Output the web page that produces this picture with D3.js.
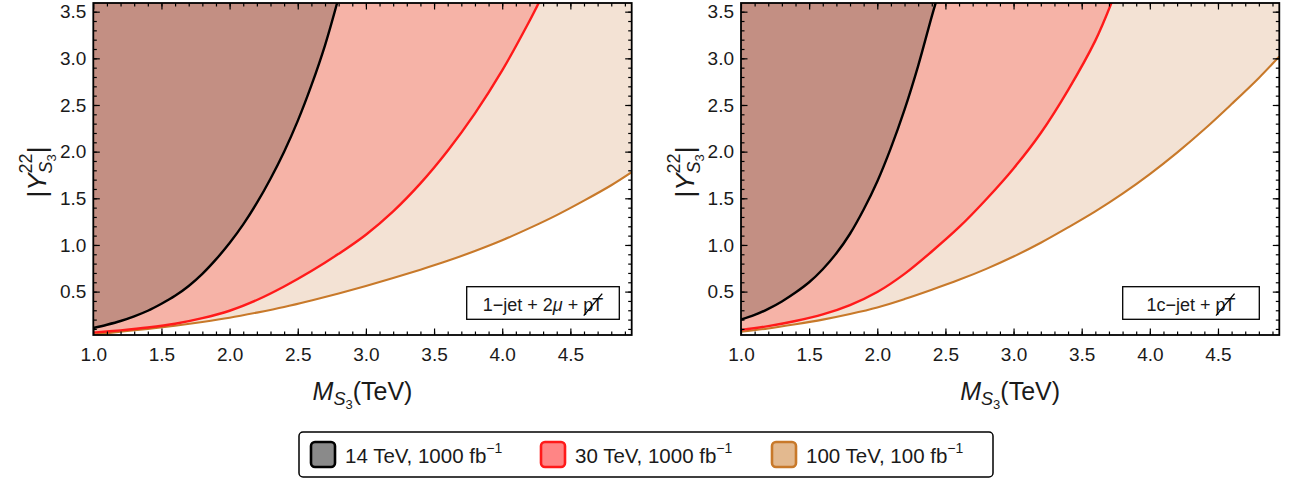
<!DOCTYPE html>
<html><head><meta charset="utf-8">
<script src="https://cdn.jsdelivr.net/npm/d3@7"></script>
<style>
body{margin:0;background:#fff}
svg{display:block}
text{font-family:"Liberation Sans",Arial,Helvetica,sans-serif;fill:#1a1a1a}
</style>
</head><body>
<svg id="chart" width="1292" height="480"></svg>
<script>
// ---------------- data ----------------
const xTicks = [1.0, 1.5, 2.0, 2.5, 3.0, 3.5, 4.0, 4.5];
const yTicks = [0.5, 1.0, 1.5, 2.0, 2.5, 3.0, 3.5];
const xDomain = [1.0, 4.95];
const yDomain = [0.035, 3.593];
const legendLabels = ["14 TeV, 1000 fb", "30 TeV, 1000 fb", "100 TeV, 100 fb"];
const panelLabels = ["1\u2212jet + 2\u03bc + ", "1c\u2212jet + "];

// left panel: 1-jet + 2mu + MET   [M_S3 (TeV), |Y22|]
const left14 = [[1.0,0.11],[1.1,0.145],[1.2,0.185],[1.3,0.235],[1.4,0.295],[1.5,0.37],[1.6,0.455],[1.7,0.56],[1.8,0.69],[1.9,0.845],[2.0,1.02],[2.1,1.22],[2.2,1.45],[2.3,1.71],[2.4,2.0],[2.5,2.33],[2.6,2.71],[2.7,3.14],[2.79,3.6]];
const left30 = [[1.0,0.06],[1.2,0.085],[1.4,0.115],[1.6,0.155],[1.8,0.215],[2.0,0.295],[2.2,0.41],[2.4,0.555],[2.6,0.72],[2.8,0.905],[3.0,1.11],[3.2,1.36],[3.4,1.66],[3.6,2.01],[3.8,2.41],[4.0,2.87],[4.2,3.40],[4.27,3.6]];
const left100 = [[1.0,0.04],[1.2,0.07],[1.4,0.10],[1.6,0.135],[1.8,0.175],[2.0,0.22],[2.2,0.275],[2.4,0.335],[2.6,0.405],[2.8,0.48],[3.0,0.56],[3.2,0.645],[3.4,0.735],[3.6,0.83],[3.8,0.935],[4.0,1.05],[4.2,1.18],[4.4,1.32],[4.6,1.475],[4.8,1.64],[4.95,1.78]];

// right panel: 1c-jet + MET
const right14 = [[1.0,0.20],[1.1,0.25],[1.2,0.315],[1.3,0.395],[1.4,0.49],[1.5,0.60],[1.6,0.74],[1.7,0.91],[1.8,1.12],[1.9,1.38],[2.0,1.68],[2.1,2.04],[2.2,2.45],[2.3,2.92],[2.4,3.45],[2.43,3.6]];
const right30 = [[1.0,0.09],[1.2,0.13],[1.4,0.185],[1.6,0.255],[1.8,0.355],[2.0,0.495],[2.2,0.69],[2.4,0.93],[2.6,1.19],[2.8,1.49],[3.0,1.82],[3.2,2.20],[3.4,2.66],[3.6,3.19],[3.72,3.6]];
const right100 = [[1.0,0.07],[1.2,0.105],[1.4,0.15],[1.6,0.20],[1.8,0.26],[2.0,0.33],[2.2,0.42],[2.4,0.52],[2.6,0.626],[2.8,0.744],[3.0,0.876],[3.2,1.024],[3.4,1.188],[3.6,1.36],[3.8,1.55],[4.0,1.76],[4.2,1.99],[4.4,2.24],[4.6,2.51],[4.8,2.79],[4.95,3.02]];

// ---------------- styles ----------------
const fills  = ["#c38f83", "#f6b3a7", "#f3e2d4"];
const lines  = ["#000000", "#ff1a1a", "#c8792a"];
const swatchFill = ["#8a8a8a", "#ff8585", "#e3b98f"];
const lineW = [2.4, 2.4, 2.1];

const svg = d3.select("#chart");
const plotTop = 3, plotBottom = 335;

const panels = [
  {x0: 93.3, x1: 631.7, data: [left14, left30, left100], label: panelLabels[0], box: [466.7, 286.7, 619.3, 319.3], yl: 28},
  {x0: 741, x1: 1279.3, data: [right14, right30, right100], label: panelLabels[1], box: [1122.7, 286.7, 1259.3, 319.3], yl: 676}
];

panels.forEach((p, pi) => {
  const x = d3.scaleLinear().domain(xDomain).range([p.x0, p.x1]);
  const y = d3.scaleLinear().domain(yDomain).range([plotBottom, plotTop]);
  const g = svg.append("g");
  const cid = "clip" + pi;
  svg.append("clipPath").attr("id", cid).append("rect")
    .attr("x", p.x0).attr("y", plotTop).attr("width", p.x1 - p.x0).attr("height", plotBottom - plotTop);
  const plot = g.append("g").attr("clip-path", `url(#${cid})`);
  const curve = d3.curveCatmullRom.alpha(0.5);

  // filled regions (largest first)
  [2, 1, 0].forEach(i => {
    const area = d3.area().curve(curve)
      .x(d => x(d[0])).y0(d => y(d[1])).y1(y(yDomain[1]) - 5);
    plot.append("path").datum(p.data[i]).attr("d", area).attr("fill", fills[i]);
  });
  [2, 1, 0].forEach(i => {
    const line = d3.line().curve(curve).x(d => x(d[0])).y(d => y(d[1]));
    plot.append("path").datum(p.data[i]).attr("d", line)
      .attr("fill", "none").attr("stroke", lines[i]).attr("stroke-width", lineW[i]);
  });

  // axes with inward ticks
  const minorX = d3.range(11, 50).map(v => v / 10).filter(v => v <= xDomain[1]);
  const minorY = d3.range(1, 36).map(v => v / 10);
  const tickStyle = sel => { sel.select(".domain").remove(); sel.selectAll("line").attr("stroke", "#000").attr("stroke-width", 1.2); };

  g.append("g").attr("transform", `translate(0,${plotBottom})`)
    .call(d3.axisBottom(x).tickValues(minorX).tickSize(-3.5).tickFormat("")).call(tickStyle);
  const axB2 = g.append("g").attr("transform", `translate(0,${plotBottom})`)
    .call(d3.axisBottom(x).tickValues(xTicks).tickSize(-6.5).tickPadding(13).tickFormat(d3.format(".1f"))).call(tickStyle);
  axB2.selectAll("text").attr("font-size", 19).attr("fill", "#1a1a1a").attr("font-family", "Liberation Sans, Arial, sans-serif");
  g.append("g").attr("transform", `translate(0,${plotTop})`)
    .call(d3.axisTop(x).tickValues(minorX).tickSize(-3.5).tickFormat("")).call(tickStyle);
  g.append("g").attr("transform", `translate(0,${plotTop})`)
    .call(d3.axisTop(x).tickValues(xTicks).tickSize(-6.5).tickFormat("")).call(tickStyle);

  g.append("g").attr("transform", `translate(${p.x0},0)`)
    .call(d3.axisLeft(y).tickValues(minorY).tickSize(-3.5).tickFormat("")).call(tickStyle);
  const axL = g.append("g").attr("transform", `translate(${p.x0},0)`)
    .call(d3.axisLeft(y).tickValues(yTicks).tickSize(-6.5).tickPadding(7).tickFormat(d3.format(".1f"))).call(tickStyle);
  axL.selectAll("text").attr("font-size", 19).attr("fill", "#1a1a1a").attr("font-family", "Liberation Sans, Arial, sans-serif");
  g.append("g").attr("transform", `translate(${p.x1},0)`)
    .call(d3.axisRight(y).tickValues(minorY).tickSize(-3.5).tickFormat("")).call(tickStyle);
  g.append("g").attr("transform", `translate(${p.x1},0)`)
    .call(d3.axisRight(y).tickValues(yTicks).tickSize(-6.5).tickFormat("")).call(tickStyle);

  // frame
  g.append("rect").attr("x", p.x0).attr("y", plotTop).attr("width", p.x1 - p.x0).attr("height", plotBottom - plotTop)
    .attr("fill", "none").attr("stroke", "#000").attr("stroke-width", 1.8);

  // x label
  const xl = g.append("text").attr("x", (p.x0 + p.x1) / 2).attr("y", 400).attr("text-anchor", "middle").attr("font-size", 25);
  xl.append("tspan").attr("font-style", "italic").text("M");
  xl.append("tspan").attr("font-style", "italic").attr("font-size", 18).attr("dy", 5).text("S");
  xl.append("tspan").attr("font-size", 13).attr("dy", 4).text("3");
  xl.append("tspan").attr("dy", -9).text("(TeV)");

  // y label (rotated)
  const yg = g.append("g").attr("transform", `translate(${p.yl + 18},172) rotate(-90)`);
  const yt = yg.append("text").attr("text-anchor", "middle").attr("font-size", 26);
  yt.append("tspan").text("|");
  yt.append("tspan").attr("font-style", "italic").text("Y");
  yt.append("tspan").attr("font-size", 18).attr("dy", -14).text("22");
  yt.append("tspan").attr("font-size", 18).attr("font-style", "italic").attr("dx", -20).attr("dy", 20).text("S");
  yt.append("tspan").attr("font-size", 13).attr("dy", 4).text("3");
  yt.append("tspan").attr("dy", -10).attr("dx", 1).text("|");

  // annotation box
  const [bx0, by0, bx1, by1] = p.box;
  g.append("rect").attr("x", bx0).attr("y", by0).attr("width", bx1 - bx0).attr("height", by1 - by0)
    .attr("fill", "#fff").attr("stroke", "#000").attr("stroke-width", 1.3);
  const at = g.append("text").attr("x", (bx0 + bx1) / 2).attr("y", by0 + 24).attr("text-anchor", "middle").attr("font-size", 18);
  if (pi === 0) {
    at.append("tspan").text("1\u2212jet + 2");
    at.append("tspan").attr("font-style", "italic").text("\u03bc");
    at.append("tspan").text(" + ");
  } else {
    at.append("tspan").text(p.label);
  }
  at.append("tspan").text("p");
  at.append("tspan").attr("dx", -1).text("T");
  const n = at.node().getNumberOfChars();
  const pExt = at.node().getExtentOfChar(n - 2);
  const tExt = at.node().getExtentOfChar(n - 1);
  g.append("line")
    .attr("x1", pExt.x + 0.5).attr("y1", by0 + 29)
    .attr("x2", tExt.x + tExt.width - 1).attr("y2", by0 + 7)
    .attr("stroke", "#000").attr("stroke-width", 1.3);
});

// legend
const lg = svg.append("g");
lg.append("rect").attr("x", 299).attr("y", 432).attr("width", 694).attr("height", 45).attr("rx", 4)
  .attr("fill", "#fff").attr("stroke", "#000").attr("stroke-width", 1.5);
const swX = [311, 541, 772];
legendLabels.forEach((lab, i) => {
  lg.append("rect").attr("x", swX[i]).attr("y", 442).attr("width", 24).attr("height", 25).attr("rx", 4)
    .attr("fill", swatchFill[i]).attr("stroke", lines[i]).attr("stroke-width", 2.6);
  const t = lg.append("text").attr("x", swX[i] + 34).attr("y", 463).attr("font-size", 20.5);
  t.append("tspan").text(lab);
  t.append("tspan").attr("font-size", 14).attr("dy", -10).text("\u22121");
});
</script>
</body></html>
